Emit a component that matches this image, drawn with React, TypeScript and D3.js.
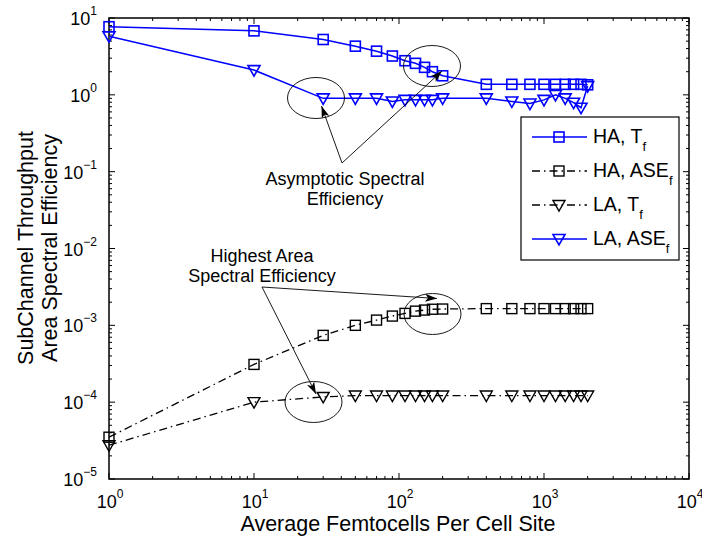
import React from "react"
import * as d3 from "d3"

const femtocells = [1, 10, 30, 50, 70, 90, 110, 130, 150, 170, 200, 400, 600, 800, 1000, 1200, 1400, 1600, 1800, 2000]
const haThroughput = [7.7, 6.8, 5.25, 4.3, 3.7, 3.2, 2.78, 2.57, 2.28, 2.0, 1.77, 1.37, 1.37, 1.37, 1.37, 1.37, 1.37, 1.37, 1.37, 1.35]
const haAse = [3.5e-5, 3.1e-4, 7.4e-4, 1.0e-3, 1.17e-3, 1.32e-3, 1.43e-3, 1.53e-3, 1.58e-3, 1.62e-3, 1.63e-3, 1.65e-3, 1.65e-3, 1.65e-3, 1.65e-3, 1.65e-3, 1.65e-3, 1.65e-3, 1.65e-3, 1.65e-3]
const laThroughput = [2.75e-5, 1.0e-4, 1.17e-4, 1.22e-4, 1.22e-4, 1.22e-4, 1.22e-4, 1.22e-4, 1.22e-4, 1.22e-4, 1.22e-4, 1.22e-4, 1.22e-4, 1.22e-4, 1.22e-4, 1.22e-4, 1.22e-4, 1.22e-4, 1.22e-4, 1.22e-4]
const laAse = [5.8, 2.1, 0.9, 0.9, 0.9, 0.82, 0.86, 0.86, 0.86, 0.86, 0.9, 0.9, 0.82, 0.77, 0.86, 1.0, 0.9, 0.79, 0.68, 1.3]

const xTicks = [1, 10, 100, 1000, 10000]
const yTicks = [1e-5, 1e-4, 1e-3, 1e-2, 1e-1, 1, 10]

const series = [
  { name: "HA", sub: "T", values: haThroughput, color: "#0000ff", marker: "square", dash: null },
  { name: "HA", sub: "ASE", values: haAse, color: "#000000", marker: "square", dash: "8,4,1.5,4" },
  { name: "LA", sub: "T", values: laThroughput, color: "#000000", marker: "tri", dash: "8,4,1.5,4" },
  { name: "LA", sub: "ASE", values: laAse, color: "#0000ff", marker: "tri", dash: null },
]

const W = 702
const H = 541
const m = { left: 109, right: 689, top: 18, bottom: 479 }
const font = "'Liberation Sans', Arial, Helvetica, sans-serif"

const x = d3.scaleLog().domain([1, 10000]).range([m.left, m.right])
const y = d3.scaleLog().domain([1e-5, 10]).range([m.bottom, m.top])

const Marker = ({ type, cx, cy, color, sw }) => {
  if (type === "square") {
    return <rect x={cx - 5} y={cy - 5} width={10} height={10} fill="none" stroke={color} strokeWidth={sw} />
  }
  return (
    <path
      d={`M${cx - 6},${cy - 4.5}L${cx + 6},${cy - 4.5}L${cx},${cy + 6}Z`}
      fill="none"
      stroke={color}
      strokeWidth={sw}
    />
  )
}

const exp = (v) => {
  const e = Math.round(Math.log10(v))
  return e < 0 ? "\u2212" + Math.abs(e) : String(e)
}

export default function App() {
  const line = d3
    .line<number>()
    .x((d, i) => x(femtocells[i]))
    .y((d) => y(d))

  const minorX = []
  for (let p = 0; p < 4; p++) for (let k = 2; k < 10; k++) minorX.push(k * Math.pow(10, p))
  const minorY = []
  for (let p = -5; p < 1; p++) for (let k = 2; k < 10; k++) minorY.push(k * Math.pow(10, p))

  return (
    <svg width={W} height={H} style={{ position: "absolute", left: 0, top: 0, background: "#fff" }} fontFamily={font}>
      <rect x={0} y={0} width={W} height={H} fill="#fff" />
      {/* ticks */}
      <g stroke="#000" strokeWidth={1}>
        {xTicks.map((t) => (
          <g key={"xt" + t}>
            <line x1={x(t)} x2={x(t)} y1={m.bottom} y2={m.bottom - 6} />
            <line x1={x(t)} x2={x(t)} y1={m.top} y2={m.top + 6} />
          </g>
        ))}
        {minorX.map((t) => (
          <g key={"xm" + t}>
            <line x1={x(t)} x2={x(t)} y1={m.bottom} y2={m.bottom - 3} />
            <line x1={x(t)} x2={x(t)} y1={m.top} y2={m.top + 3} />
          </g>
        ))}
        {yTicks.map((t) => (
          <g key={"yt" + t}>
            <line x1={m.left} x2={m.left + 6} y1={y(t)} y2={y(t)} />
            <line x1={m.right} x2={m.right - 6} y1={y(t)} y2={y(t)} />
          </g>
        ))}
        {minorY.map((t) => (
          <g key={"ym" + t}>
            <line x1={m.left} x2={m.left + 3} y1={y(t)} y2={y(t)} />
            <line x1={m.right} x2={m.right - 3} y1={y(t)} y2={y(t)} />
          </g>
        ))}
      </g>
      <rect x={m.left} y={m.top} width={m.right - m.left} height={m.bottom - m.top} fill="none" stroke="#000" strokeWidth={1.5} />

      {/* tick labels */}
      <g fontSize={18} fill="#000">
        {xTicks.map((t) => (
          <text key={"xl" + t} x={x(t) + 1} y={508} textAnchor="middle">
            10
            <tspan fontSize={12} dy={-10}>{exp(t)}</tspan>
          </text>
        ))}
        {yTicks.map((t) => (
          <text key={"yl" + t} x={m.left - 12} y={y(t) + 7} textAnchor="end">
            10
            <tspan fontSize={12} dy={-10}>{exp(t)}</tspan>
          </text>
        ))}
      </g>

      {/* axis titles */}
      <text x={398} y={531} textAnchor="middle" fontSize={21.5}>
        Average Femtocells Per Cell Site
      </text>
      <g transform={`translate(33, 248) rotate(-90)`}>
        <text x={0} y={0} textAnchor="middle" fontSize={21.5}>SubChannel Throughput</text>
        <text x={0} y={24} textAnchor="middle" fontSize={21.5}>Area Spectral Efficiency</text>
      </g>

      {/* series */}
      {series.map((s, si) => (
        <g key={"s" + si}>
          <path d={line(s.values)} fill="none" stroke={s.color} strokeWidth={s.color === "#000000" ? 1.3 : 1.5} strokeDasharray={s.dash || undefined} />
          {s.values.map((v, i) => (
            <Marker key={i} type={s.marker} cx={x(femtocells[i])} cy={y(v)} color={s.color} sw={s.color === "#000000" ? 1.4 : 1.6} />
          ))}
        </g>
      ))}

      {/* annotations */}
      <defs>
        <marker id="arrow" viewBox="0 0 12 8" refX={12} refY={4} markerWidth={12} markerHeight={8} orient="auto" markerUnits="userSpaceOnUse">
          <path d="M0,0L12,4L0,8L3,4Z" fill="#000" />
        </marker>
      </defs>
      <g fill="none" stroke="#000" strokeWidth={0.9}>
        <ellipse cx={316} cy={98} rx={28.5} ry={20.5} />
        <ellipse cx={432} cy={66} rx={28.5} ry={20.5} />
        <ellipse cx={432.5} cy={314} rx={28.5} ry={20.5} />
        <ellipse cx={313.5} cy={402} rx={28.5} ry={20.5} />
        <line x1={342} y1={163} x2={321.5} y2={106} markerEnd="url(#arrow)" />
        <line x1={342} y1={163} x2={442} y2={71} markerEnd="url(#arrow)" />
        <line x1={262} y1={287} x2={316} y2={394} markerEnd="url(#arrow)" />
        <line x1={262} y1={287} x2={437} y2={298.5} markerEnd="url(#arrow)" />
      </g>
      <g fontSize={18} textAnchor="middle" fill="#000">
        <text x={345} y={185}>Asymptotic Spectral</text>
        <text x={345} y={205}>Efficiency</text>
        <text x={262} y={262}>Highest Area</text>
        <text x={262} y={282}>Spectral Efficiency</text>
      </g>

      {/* legend */}
      <rect x={521} y={117} width={158} height={143} fill="#fff" stroke="#000" strokeWidth={1.2} />
      {series.map((s, i) => {
        const ly = 137 + i * 34
        return (
          <g key={"lg" + i}>
            <line x1={532} x2={587} y1={ly} y2={ly} stroke={s.color} strokeWidth={s.color === "#000000" ? 1.3 : 1.5} strokeDasharray={s.dash || undefined} />
            <Marker type={s.marker} cx={559} cy={ly} color={s.color} sw={s.color === "#000000" ? 1.4 : 1.6} />
            <text x={593} y={ly + 6} fontSize={19.5}>
              {s.name}, {s.sub}
              <tspan fontSize={13} dy={8}>f</tspan>
            </text>
          </g>
        )
      })}
    </svg>
  )
}
